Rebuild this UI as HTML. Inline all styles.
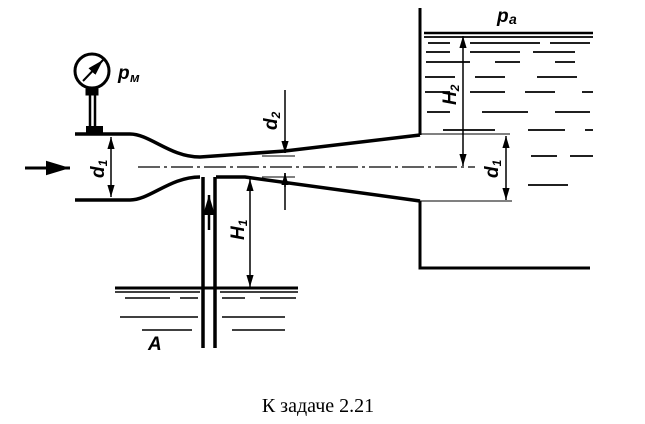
<!DOCTYPE html><html><head><style>body{margin:0;background:#fff}svg{display:block}</style></head><body>
<svg width="645" height="424" viewBox="0 0 645 424" xmlns="http://www.w3.org/2000/svg" font-family="Liberation Serif, serif">
<defs><marker id="a" viewBox="0 0 10 10" refX="10" refY="5" markerWidth="8" markerHeight="8" orient="auto-start-reverse"><path d="M0,2 L10,5 L0,8 z" fill="#000"/></marker></defs>
<g stroke="#000" fill="none">
<path d="M75,134 L130,134 C150,134 170,157 200,157 L285,151 L420,135" stroke-width="3.5"/>
<path d="M75,200 L130,200 C150,200 170,177 200,177" stroke-width="3.5"/>
<path d="M216,177 L245,177 L420,201" stroke-width="3.5"/>
<path d="M203,177 L203,348 M215,177 L215,348" stroke-width="3.5"/>
<path d="M138,167 L475,167" stroke-width="1.3" stroke-dasharray="22,4,3,4"/>
<circle cx="92" cy="71" r="17" stroke-width="3"/>
<path d="M83,81 L103,60" stroke-width="2" marker-end="url(#a)"/>
<rect x="86" y="89" width="12" height="6" fill="#000"/>
<path d="M90,95 L90,126 M95,95 L95,126" stroke-width="2.5"/>
<rect x="86" y="126" width="17" height="8" fill="#000" stroke="none"/>
<path d="M25,168 L70,168" stroke-width="3" marker-end="url(#a)"/>
<path d="M111,137 L111,197" stroke-width="1.5" marker-start="url(#a)" marker-end="url(#a)"/>
<path d="M285,90 L285,153 M285,173 L285,210" stroke-width="1.5"/>
<path d="M285,140 L285,153" stroke-width="1.5" marker-end="url(#a)"/>
<path d="M285,187 L285,173" stroke-width="1.5" marker-end="url(#a)"/>
<path d="M262,156 L295,156 M262,177 L295,177" stroke-width="1"/>
<path d="M209,230 L209,195" stroke-width="2.5" marker-end="url(#a)"/>
<path d="M250,179 L250,287" stroke-width="1.5" marker-start="url(#a)" marker-end="url(#a)"/>
<path d="M115,288 L298,288" stroke-width="3"/>
<path d="M115,292 L200,292 M220,292 L298,292 M125,298 L170,298 M180,298 L198,298 M222,298 L245,298 M260,298 L296,298 M120,317 L198,317 M222,317 L285,317 M142,330 L192,330 M232,330 L285,330" stroke-width="1.6"/>
<path d="M420,8 L420,135 M420,201 L420,268 L590,268" stroke-width="3"/>
<path d="M424,33 L593,33" stroke-width="2.5"/>
<path d="M424,37 L593,37 M428,43 L450,43 M470,43 L500,43 M495,43 L540,43 M550,43 L590,43 M426,52 L450,52 M470,52 L520,52 M533,52 L575,52 M426,62 L445,62 M445,62 L470,62 M495,62 L520,62 M555,62 L575,62 M425,77 L455,77 M475,77 L505,77 M537,77 L577,77 M425,92 L450,92 M470,92 L505,92 M525,92 L555,92 M582,92 L593,92 M427,112 L450,112 M482,112 L528,112 M555,112 L590,112 M443,130 L495,130 M528,130 L565,130 M585,130 L593,130 M531,156 L557,156 M570,156 L593,156 M528,185 L568,185" stroke-width="1.8"/>
<path d="M420,134 L510,134 M420,201 L512,201" stroke-width="1"/>
<path d="M463,36 L463,166" stroke-width="1.5" marker-start="url(#a)" marker-end="url(#a)"/>
<path d="M506,136 L506,200" stroke-width="1.5" marker-start="url(#a)" marker-end="url(#a)"/>
</g>
<g font-family="Liberation Sans, sans-serif" font-style="italic" font-weight="bold" font-size="19">
<text x="118" y="79">p</text><text x="130" y="82" font-size="13">м</text>
<text x="497" y="22">p</text><text x="509" y="24" font-size="14">a</text>
<text x="148" y="350">A</text>
<text transform="translate(104,178) rotate(-90)">d<tspan font-size="12" dy="3">1</tspan></text>
<text transform="translate(277,130) rotate(-90)">d<tspan font-size="12" dy="3">2</tspan></text>
<text transform="translate(244,240) rotate(-90)">H<tspan font-size="12" dy="3">1</tspan></text>
<text transform="translate(456,105) rotate(-90)">H<tspan font-size="12" dy="3">2</tspan></text>
<text transform="translate(498,178) rotate(-90)">d<tspan font-size="12" dy="3">1</tspan></text>
</g>
<text x="318" y="412" text-anchor="middle" font-size="20">К задаче 2.21</text>
</svg>
</body></html>
